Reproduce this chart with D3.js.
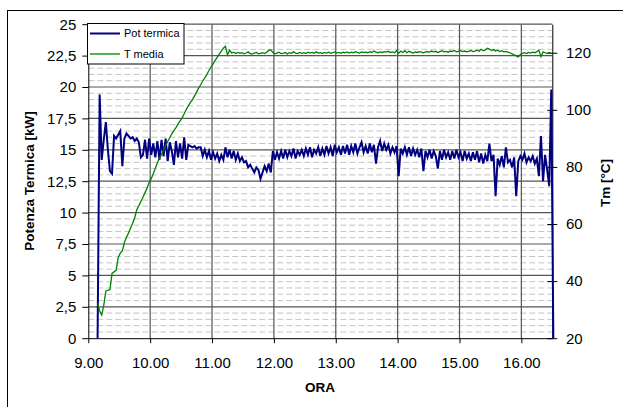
<!DOCTYPE html>
<html>
<head>
<meta charset="utf-8">
<script src="https://cdn.jsdelivr.net/npm/d3@7"></script>
<style>
  body { margin: 0; background: #fff; }
  svg { display: block; font-family: "Liberation Sans", Arial, sans-serif; }
  .axis text { font-size: 15px; fill: #000; }
  .axis path, .axis line { stroke: #000; }
  .axis-title { font-size: 13.5px; font-weight: bold; fill: #000; }
  .legend text { font-size: 11px; fill: #000; }
</style>
</head>
<body>
<svg id="chart"></svg>
<script>
// first sample (hours) and sampling step: one reading every 2 minutes
const startOra = 9.15;
const passoOra = 1 / 30;

// Pot termica [kW]
const potTermica = [
  0, 19.4, 14.2, 15.8, 17.2, 15.0, 13.3, 13.1, 16.1, 15.9,
  16.2, 16.5, 13.7, 15.9, 16.3, 16.1, 15.9, 16.0, 15.7, 15.9,
  15.6, 14.4, 14.6, 15.8, 14.3, 15.9, 14.6, 15.5, 14.4, 15.7,
  14.2, 15.8, 14.5, 15.9, 14.1, 15.6, 14.9, 13.8, 15.7, 14.4,
  15.5, 14.3, 16.0, 14.2, 15.4, 15.3, 15.2, 15.3, 15.1, 15.2,
  15.2, 14.5, 15.0, 14.4, 14.9, 14.2, 14.8, 14.3, 14.7, 14.1,
  14.6, 14.2, 15.2, 14.4, 15.0, 14.3, 14.9, 14.2, 14.7, 14.1,
  14.4, 14.0, 14.1, 13.6, 13.8, 13.5, 13.2, 13.6, 13.4, 12.7,
  13.2, 13.7, 13.3, 13.9, 13.2, 14.9, 14.2, 14.8, 14.3, 14.9,
  14.3, 15.0, 14.4, 14.9, 14.5, 15.1, 14.3, 14.9, 14.6, 15.0,
  14.5, 15.1, 14.6, 15.2, 14.4, 15.0, 14.7, 15.2, 14.5, 15.1,
  14.6, 15.3, 14.7, 15.2, 14.5, 15.4, 14.8, 15.2, 14.6, 15.3,
  14.7, 15.4, 14.6, 15.3, 14.8, 15.5, 14.7, 15.2, 15.6, 14.8,
  15.3, 14.7, 15.5, 14.8, 15.4, 13.9, 15.2, 15.7, 14.9, 15.5,
  15.0, 15.4, 14.7, 15.2, 14.8, 15.3, 12.9, 15.1, 14.7, 15.2,
  14.6, 15.2, 14.5, 15.1, 14.6, 15.0, 14.4, 15.1, 13.3, 14.9,
  14.4, 15.0, 14.3, 14.9, 14.5, 13.5, 14.9, 14.2, 15.0, 14.4,
  14.8, 14.2, 14.9, 14.3, 15.0, 14.4, 14.8, 14.1, 14.9, 14.3,
  14.7, 14.1, 14.8, 14.2, 14.9, 14.0, 14.7, 13.9, 14.6, 14.1,
  15.5, 14.1, 14.6, 11.3, 14.3, 13.8, 14.5, 13.6, 15.2, 14.0,
  14.2, 13.6, 14.4, 11.3, 14.1, 14.5, 14.2, 14.7, 14.0, 14.4,
  14.1, 14.5, 13.9, 14.3, 12.9, 16.1, 12.5, 14.6, 13.4, 12.1,
  19.8, 0
];

// T media [°C]
const tMedia = [
  32.2, 29.6, 28.1, 31.5, 36.5, 36.8, 37.0, 42.7, 43.3, 43.8,
  48.2, 49.8, 50.6, 53.5, 55.4, 56.8, 58.6, 60.3, 62.2, 65.0,
  66.4, 67.9, 69.4, 71.0, 72.6, 74.5, 75.9, 77.6, 79.5, 81.4,
  83.1, 84.4, 85.9, 87.4, 88.9, 90.2, 91.6, 92.7, 93.8, 95.0,
  96.1, 97.2, 98.6, 100.1, 101.4, 102.6, 103.5, 104.9, 106.2, 107.6,
  108.8, 110.1, 111.2, 112.4, 113.8, 115.0, 116.1, 117.3, 118.4, 119.5,
  120.6, 121.6, 122.3, 119.2, 120.9, 119.9, 120.2, 119.7, 120.1, 119.8,
  120.0, 119.6, 119.9, 120.3, 119.7, 119.5, 119.9, 120.1, 119.6, 119.8,
  120.0, 119.7, 120.2, 120.9, 121.0, 120.1, 119.6, 119.9, 120.2, 119.7,
  119.8, 120.1, 119.6, 120.0, 119.8, 120.3, 119.9, 119.7, 120.1, 119.8,
  120.0, 119.7, 120.2, 119.9, 120.1, 119.8, 120.3, 119.9, 120.0, 119.7,
  120.1, 119.9, 120.2, 119.8, 120.0, 120.3, 119.9, 120.1, 119.8, 120.2,
  120.0, 120.3, 119.9, 120.2, 120.0, 120.4, 120.1, 119.9, 120.3, 120.1,
  120.2, 120.0, 120.4, 120.1, 120.6, 120.2, 120.0, 120.3, 120.1, 120.4,
  120.2, 120.5, 120.1, 120.3, 120.0, 120.8, 119.8, 120.6, 120.1, 120.7,
  120.0, 120.5, 120.2, 119.9, 120.3, 120.1, 120.4, 120.2, 120.0, 120.3,
  120.4, 120.2, 120.6, 120.3, 120.5, 120.1, 120.4, 120.7, 120.3, 120.5,
  120.2, 120.6, 120.4, 120.8, 120.3, 120.5, 120.7, 120.4, 120.6, 120.3,
  120.5, 120.8, 120.4, 120.6, 120.9, 120.5, 121.2, 120.7, 121.0, 121.6,
  121.3, 120.8, 121.1, 120.6, 120.9, 120.4, 120.7, 120.3, 120.5, 120.2,
  120.0, 119.6, 119.3, 118.9, 118.5, 119.4, 119.8, 120.0, 119.7, 120.1,
  119.9, 120.2, 120.0, 120.4, 120.9, 118.6, 120.3, 120.0, 119.7, 120.1,
  119.9
];

// tick labels
const oreTicks = [9, 10, 11, 12, 13, 14, 15, 16];
const kwTicks = [0, 2.5, 5, 7.5, 10, 12.5, 15, 17.5, 20, 22.5, 25];
const tmTicks = [20, 40, 60, 80, 100, 120];

const serieNomi = ['Pot termica', 'T media'];
const serieColori = ['#000080', '#008000'];

class GraficoTermico {
  constructor(_config) {
    this.config = {
      parentElement: _config.parentElement,
      containerWidth: _config.containerWidth || 623,
      containerHeight: _config.containerHeight || 407,
      margin: _config.margin || {top: 24.2, right: 70.7, bottom: 68.8, left: 88.3}
    };
    this.initVis();
  }

  initVis() {
    let vis = this;

    vis.width = vis.config.containerWidth - vis.config.margin.left - vis.config.margin.right;
    vis.height = vis.config.containerHeight - vis.config.margin.top - vis.config.margin.bottom;

    vis.xScale = d3.scaleLinear().domain([9, 16.5]).range([0, vis.width]);
    vis.yScale = d3.scaleLinear().domain([0, 25]).range([vis.height, 0]);
    vis.y2Scale = d3.scaleLinear().domain([20, 130]).range([vis.height, 0]);

    vis.svg = d3.select(vis.config.parentElement)
      .attr('width', vis.config.containerWidth)
      .attr('height', vis.config.containerHeight);

    // outer frame of the chart object (runs off the page right/bottom)
    vis.svg.append('rect')
      .attr('x', 7.5).attr('y', 10.5)
      .attr('width', 700).attr('height', 500)
      .attr('fill', 'none').attr('stroke', '#000');

    vis.chart = vis.svg.append('g')
      .attr('transform', `translate(${vis.config.margin.left},${vis.config.margin.top})`);
  }

  renderVis() {
    let vis = this;

    // minor dashed grid every 0.5 kW
    const minori = d3.range(0.5, 25, 0.5).filter(v => Math.abs(v / 2.5 - Math.round(v / 2.5)) > 1e-6);
    vis.chart.append('g').selectAll('line')
      .data(minori).join('line')
      .attr('x1', 0).attr('x2', vis.width)
      .attr('y1', d => vis.yScale(d)).attr('y2', d => vis.yScale(d))
      .attr('stroke', '#c4c4c4').attr('stroke-dasharray', '6,3');

    // major grid
    vis.chart.append('g').selectAll('line')
      .data(kwTicks.slice(1)).join('line')
      .attr('x1', 0).attr('x2', vis.width)
      .attr('y1', d => vis.yScale(d)).attr('y2', d => vis.yScale(d))
      .attr('stroke', '#555').attr('stroke-width', 1.2);
    vis.chart.append('g').selectAll('line')
      .data(oreTicks.slice(1)).join('line')
      .attr('x1', d => vis.xScale(d)).attr('x2', d => vis.xScale(d))
      .attr('y1', 0).attr('y2', vis.height)
      .attr('stroke', '#555').attr('stroke-width', 1.2);

    // axes
    vis.chart.append('g')
      .attr('class', 'axis x-axis')
      .attr('transform', `translate(0,${vis.height})`)
      .call(d3.axisBottom(vis.xScale).tickValues(oreTicks)
        .tickFormat(d3.format('.2f')).tickSize(5).tickPadding(14.5).tickSizeOuter(0));

    vis.chart.append('g')
      .attr('class', 'axis y-axis')
      .call(d3.axisLeft(vis.yScale).tickValues(kwTicks)
        .tickFormat(d => String(d).replace('.', ',')).tickSize(6).tickPadding(6).tickSizeOuter(0));

    const y2Axis = vis.chart.append('g')
      .attr('class', 'axis y2-axis')
      .attr('transform', `translate(${vis.width},0)`)
      .call(d3.axisRight(vis.y2Scale).tickValues(tmTicks)
        .tickSize(5).tickPadding(8.7).tickSizeOuter(0));
    // ticks cross the secondary axis
    y2Axis.selectAll('.tick').append('line')
      .attr('x1', -5).attr('x2', 0).attr('stroke', '#000');

    // series
    const xOra = (d, i) => vis.xScale(startOra + i * passoOra);
    vis.chart.append('path')
      .datum(potTermica)
      .attr('fill', 'none')
      .attr('stroke', serieColori[0])
      .attr('stroke-width', 2)
      .attr('d', d3.line().x(xOra).y(d => vis.yScale(d)));

    vis.chart.append('path')
      .datum(tMedia)
      .attr('fill', 'none')
      .attr('stroke', serieColori[1])
      .attr('stroke-width', 1.3)
      .attr('d', d3.line().x(xOra).y(d => vis.y2Scale(d)));

    // legend
    const legend = vis.svg.append('g').attr('class', 'legend');
    legend.append('rect')
      .attr('x', 87.5).attr('y', 23.5).attr('width', 96.5).attr('height', 40.5)
      .attr('fill', '#fff').attr('stroke', '#000');
    serieNomi.forEach((nome, i) => {
      const ly = 33.5 + i * 20.5;
      legend.append('line')
        .attr('x1', 90).attr('x2', 120).attr('y1', ly).attr('y2', ly)
        .attr('stroke', serieColori[i]).attr('stroke-width', i === 0 ? 2 : 1.3);
      legend.append('text')
        .attr('x', 124).attr('y', ly).attr('dy', '0.35em')
        .text(nome);
    });

    // axis titles
    vis.svg.append('text')
      .attr('class', 'axis-title')
      .attr('text-anchor', 'middle')
      .attr('transform', 'translate(34,181) rotate(-90)')
      .text('Potenza Termica [kW]');
    vis.svg.append('text')
      .attr('class', 'axis-title')
      .attr('text-anchor', 'middle')
      .attr('transform', 'translate(610,183) rotate(-90)')
      .text('Tm [°C]');
    vis.svg.append('text')
      .attr('class', 'axis-title')
      .attr('text-anchor', 'middle')
      .attr('x', 320).attr('y', 392)
      .text('ORA');
  }
}

const grafico = new GraficoTermico({parentElement: '#chart'});
grafico.renderVis();
</script>
</body>
</html>
